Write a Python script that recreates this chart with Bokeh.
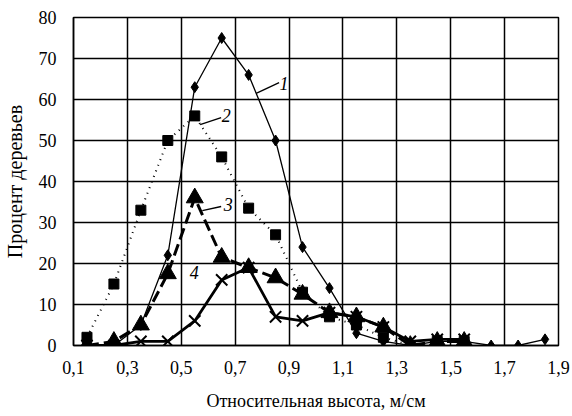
from bokeh.plotting import figure
from bokeh.models import FixedTicker, CustomJSTickFormatter, Range1d
from bokeh.core.properties import value
from bokeh.embed import file_html
from bokeh.resources import INLINE

# Relative height classes (bin centres)
x_vals = [0.15, 0.25, 0.35, 0.45, 0.55, 0.65, 0.75, 0.85, 0.95, 1.05,
          1.15, 1.25, 1.35, 1.45, 1.55, 1.65, 1.75, 1.85]

series1 = [0, 0, 5, 22, 63, 75, 66, 50, 24, 14, 3, 1, 0, 1, 1, 0, 0, 1.5]
series2 = [2, 15, 33, 50, 56, 46, 33.5, 27, 13, 7, 5, 2, 0, 1, 1]
series3 = [0, 1, 5, 17.5, 36, 21.5, 19, 16.5, 12.5, 8, 7, 4.5, 0, 1, 1]
series4 = [0, 0, 1, 1, 6, 16, 19, 7, 6, 8, 7, 4.5, 1, 1.5, 1.5]

x_ticks = [0.1, 0.3, 0.5, 0.7, 0.9, 1.1, 1.3, 1.5, 1.7, 1.9]
y_ticks = [0, 10, 20, 30, 40, 50, 60, 70, 80]

curve_labels = ["1", "2", "3", "4"]
label_x = [0.881, 0.667, 0.674, 0.548]
label_y = [64.0, 56.0, 34.4, 17.8]
leader_x0 = [0.778, 0.570, 0.578]
leader_y0 = [61.5, 53.9, 32.9]
leader_x1 = [0.863, 0.648, 0.648]
leader_y1 = [64.1, 55.6, 33.9]

FONT = "Liberation Serif"

p = figure(width=572, height=416, output_backend="svg", toolbar_location=None,
           x_range=Range1d(0.1, 1.9), y_range=Range1d(0, 80),
           min_border_left=72, min_border_right=14, min_border_top=17,
           min_border_bottom=71)

p.outline_line_color = "black"
p.outline_line_width = 1.5

for ax in (p.xaxis[0], p.yaxis[0]):
    ax.major_tick_line_color = None
    ax.minor_tick_line_color = None
    ax.major_tick_in = 0
    ax.major_tick_out = 0
    ax.axis_line_color = "black"
    ax.axis_line_width = 1.5
    ax.major_label_text_font = FONT
    ax.major_label_text_font_size = "18px"
    ax.major_label_text_color = "black"
    ax.axis_label_text_font = FONT
    ax.axis_label_text_font_style = "normal"
    ax.axis_label_text_color = "black"

p.xaxis.axis_label_text_font_size = "18px"
p.yaxis.axis_label_text_font_size = "20px"
p.xaxis.ticker = FixedTicker(ticks=x_ticks)
p.xaxis.formatter = CustomJSTickFormatter(code="return tick.toFixed(1).replace('.', ',');")
p.yaxis.ticker = FixedTicker(ticks=y_ticks)
p.xaxis.major_label_standoff = 15
p.yaxis.major_label_standoff = 17
p.xaxis.axis_label = "Относительная высота, м/см"
p.yaxis.axis_label = "Процент деревьев"
p.xaxis.axis_label_standoff = 14
p.yaxis.axis_label_standoff = 10

p.xgrid.ticker = FixedTicker(ticks=x_ticks)
p.ygrid.ticker = FixedTicker(ticks=y_ticks)
for g in (p.xgrid[0], p.ygrid[0]):
    g.grid_line_color = "black"
    g.grid_line_width = 1.5
    g.grid_line_alpha = 1.0

# Series 2: dotted with squares
x2 = x_vals[:len(series2)]
p.line(x2, series2, line_color="black", line_width=2, line_dash="1 5")
p.scatter(x2, series2, marker="square", size=10, fill_color="black", line_color="black")

# Series 1: thin solid with diamonds
p.line(x_vals, series1, line_color="black", line_width=1.3)
p.scatter(x_vals, series1, marker="diamond", size=11, fill_color="black", line_color="black")

# Series 3: thick dashed with triangles
x3 = x_vals[:len(series3)]
p.line(x3, series3, line_color="black", line_width=3, line_dash="12 5")
p.scatter(x3, series3, marker="triangle", size=17, fill_color="black", line_color="black")

# Series 4: solid medium with crosses
x4 = x_vals[:len(series4)]
p.line(x4, series4, line_color="black", line_width=2.8)
p.scatter(x4, series4, marker="x", size=16, line_color="black", line_width=2)

# Curve labels with leader lines
p.segment(x0=leader_x0, y0=leader_y0, x1=leader_x1, y1=leader_y1,
          line_color="black", line_width=1.3)
p.text(x=label_x, y=label_y, text=curve_labels, text_font=value(FONT),
       text_font_style="italic", text_font_size="18px", text_color="black",
       text_align="center", text_baseline="middle")

open("out.html", "w").write(file_html(p, INLINE))
